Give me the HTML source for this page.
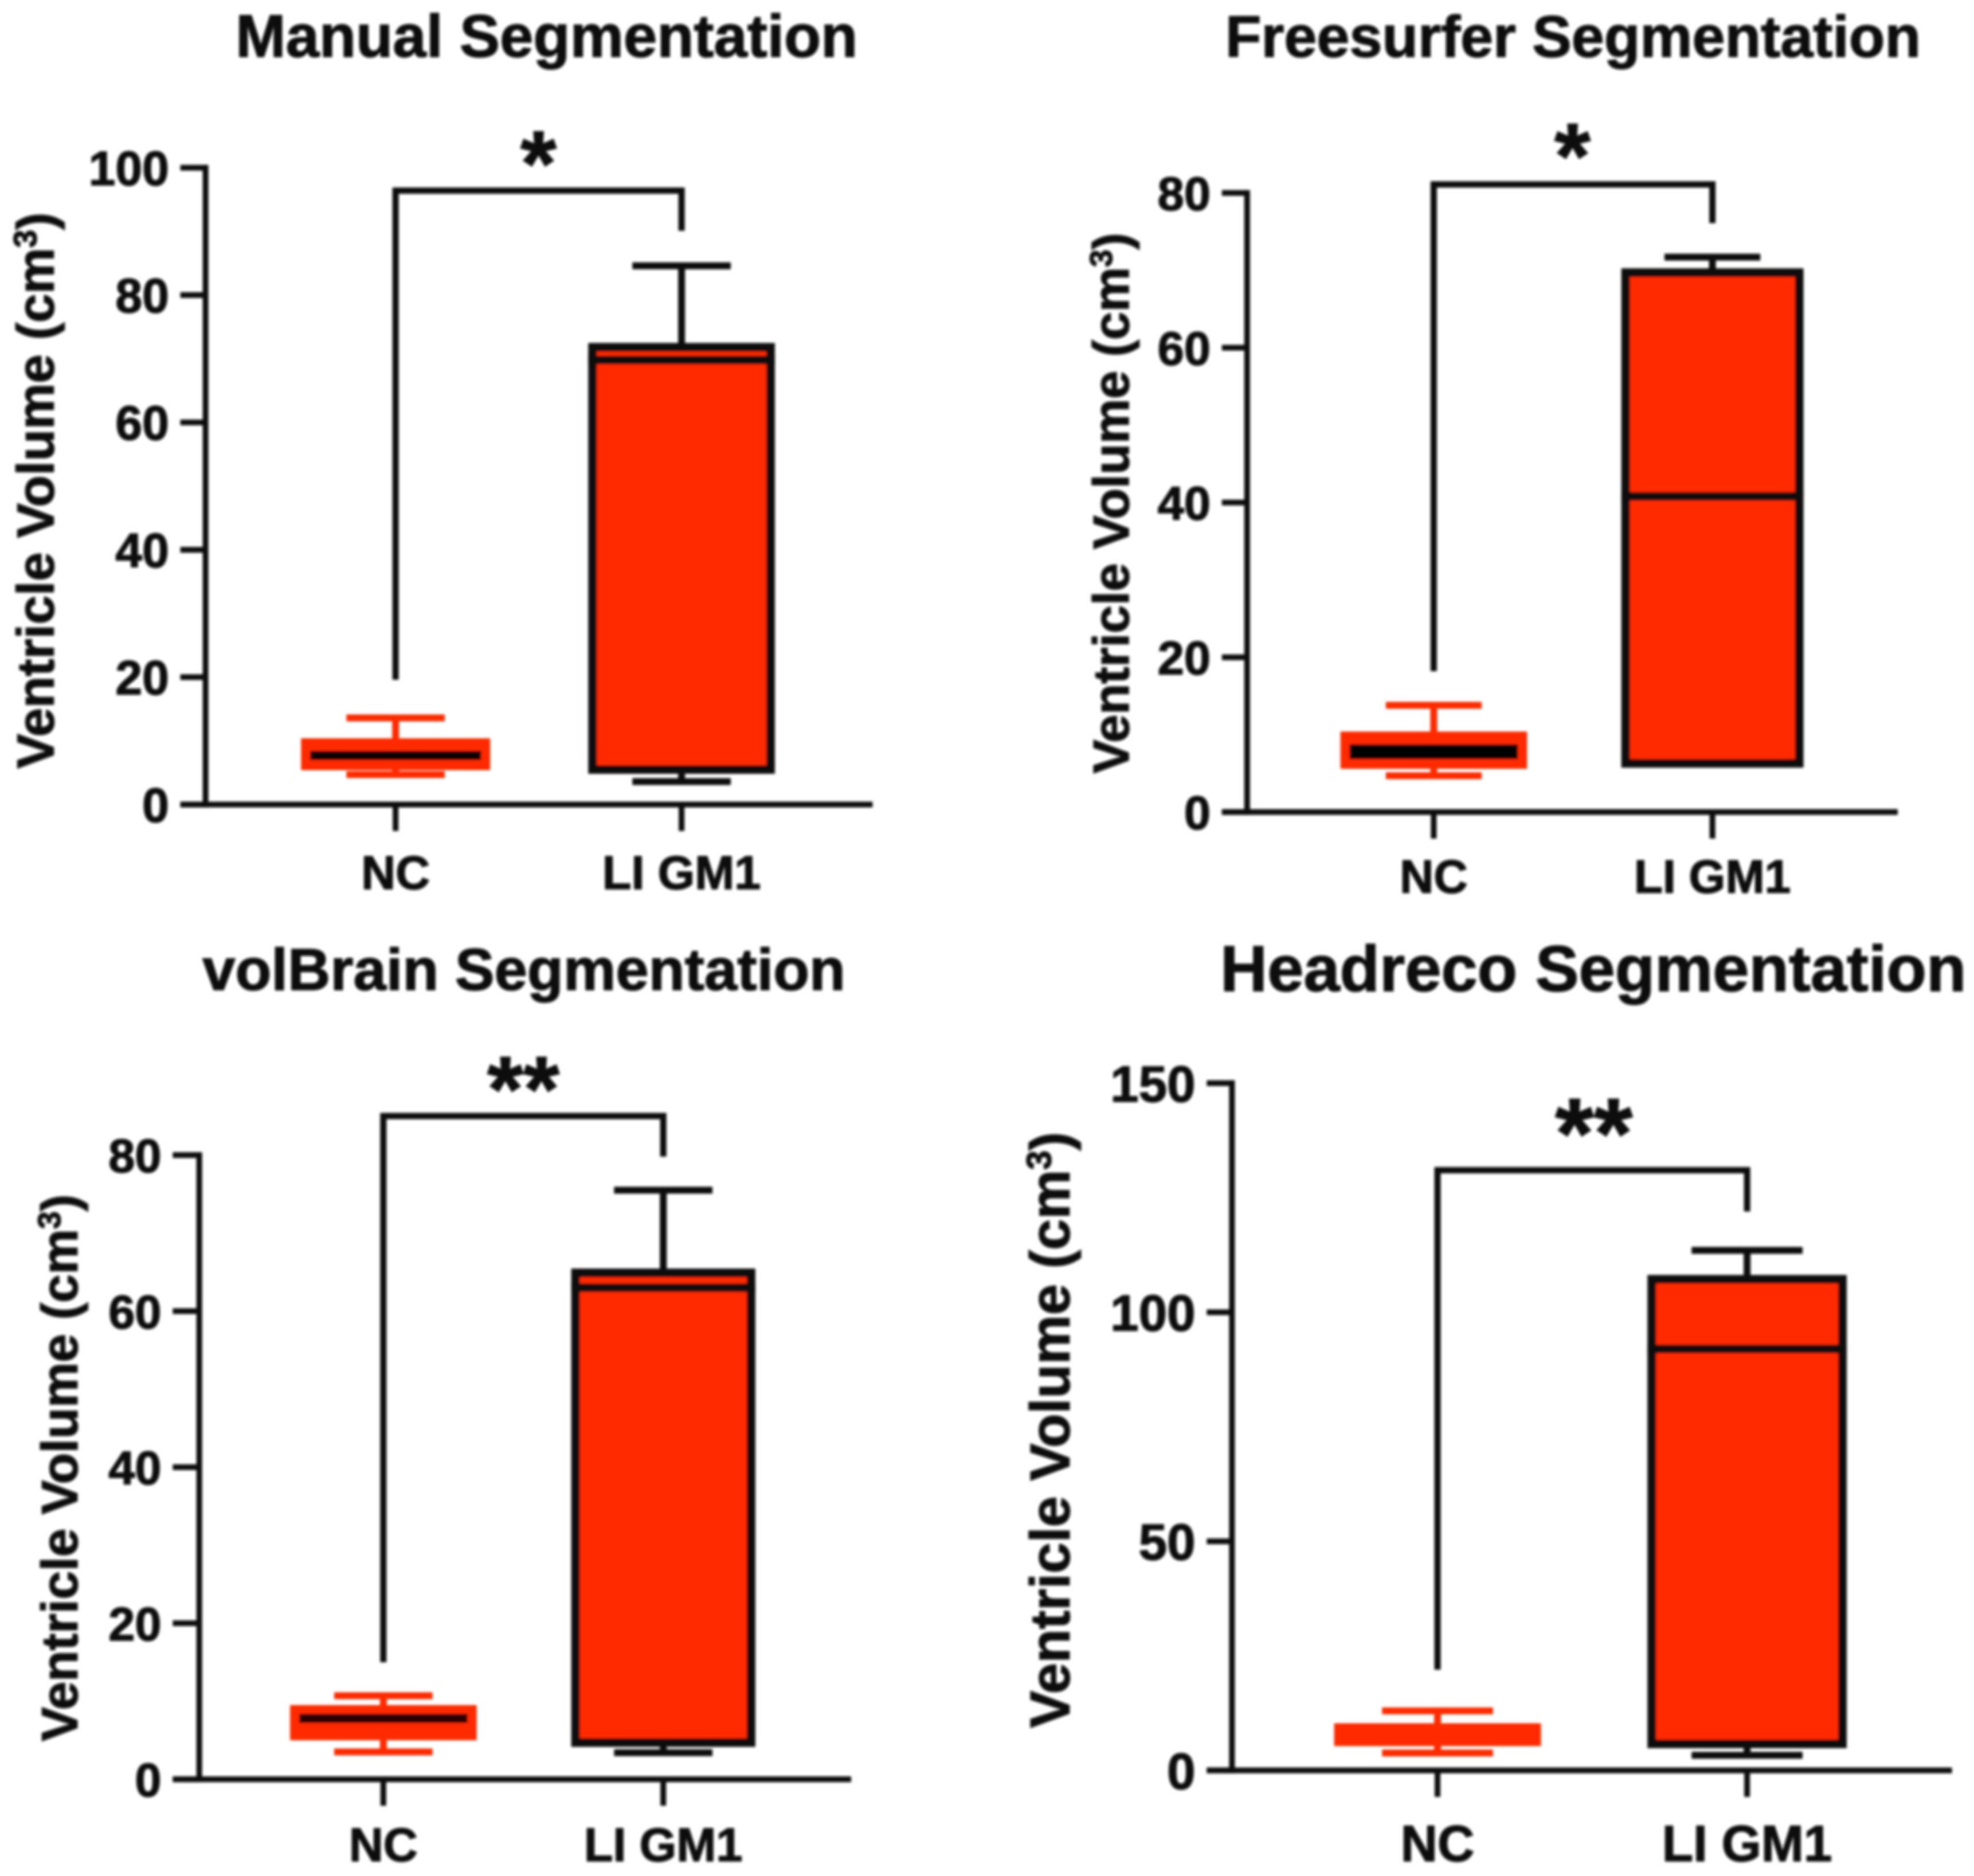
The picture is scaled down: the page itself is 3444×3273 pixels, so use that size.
<!DOCTYPE html>
<html lang="en">
<head>
<meta charset="utf-8">
<title>Ventricle Volume Segmentation Box Plots</title>
<style>
html,body{margin:0;padding:0;background:#fff;}
svg{display:block;}
text{font-family:"Liberation Sans",Arial,sans-serif;font-weight:700;fill:#0c0c0c;stroke:#0c0c0c;stroke-width:1.6px;}
</style>
</head>
<body>
<svg id="figure" xmlns="http://www.w3.org/2000/svg" width="3444" height="3273" viewBox="0 0 3444 3273">
<defs>
<filter id="soft" filterUnits="userSpaceOnUse" x="0" y="0" width="3444" height="3273">
<feGaussianBlur stdDeviation="2.4"/>
</filter>
</defs>
<rect x="0" y="0" width="3444" height="3273" fill="#fff"/>
<g id="root" filter="url(#soft)"></g>
</svg>
<script>
// ---- data ----
const categories = ['NC', 'LI GM1'];
const yAxisLabel = 'Ventricle Volume (cm';
const yAxisUnitPower = '3';

const manualTitle = 'Manual Segmentation';
const manualTicks = [0, 20, 40, 60, 80, 100];
// five-number summaries: min, q1, median, q3, max
const manualNC = [4.7, 5.9, 7.7, 9.9, 13.6];
const manualLI = [3.6, 5.5, 69.8, 71.8, 84.6];
// bracket values: left end, top, right end
const manualBracket = [19.6, 96.4, 90.1];
const manualStars = '*';

const freesurferTitle = 'Freesurfer Segmentation';
const freesurferTicks = [0, 20, 40, 60, 80];
const freesurferNC = [4.7, 6, 7.8, 10, 13.8];
const freesurferLI = [6.3, 6.3, 40.8, 69.7, 71.7];
const freesurferBracket = [18.2, 81.1, 76.1];
const freesurferStars = '*';

const volbrainTitle = 'volBrain Segmentation';
const volbrainTicks = [0, 20, 40, 60, 80];
const volbrainNC = [3.5, 5.4, 7.8, 9.1, 10.7];
const volbrainLI = [3.4, 4.7, 63, 64.9, 75.5];
const volbrainBracket = [15, 85, 79.8];
const volbrainStars = '**';

const headrecoTitle = 'Headreco Segmentation';
const headrecoTicks = [0, 50, 100, 150];
const headrecoNC = [3.8, 6, 8, 9.6, 13];
const headrecoLI = [3.3, 5.8, 92, 107.2, 113.5];
const headrecoBracket = [22, 131, 122];
const headrecoStars = '**';

// ---- layout (reference pixels at 3444 wide) ----
const S = 2.2;
const panels = [
  {key:'manual', title:manualTitle, ticks:manualTicks, nc:manualNC, li:manualLI, bracket:manualBracket, stars:manualStars,
   yMax:100, axisX:163, yTop:133, yBottom:638, xStart:143, xEnd:692, catX0:313.7, catX1:540.5, boxW0:150, boxW1:148, capW:78,
   titleX:433.5, titleY:45, titleSize:105, ylabX:28, ylabY:389, ylabSize:90.5, tickSize:84, catSize:83, catY:705,
   starY:155, starSize:162, ncMedianW:16, ncMedianColor:'#0a0000', starCenter:427},
  {key:'freesurfer', title:freesurferTitle, ticks:freesurferTicks, nc:freesurferNC, li:freesurferLI, bracket:freesurferBracket, stars:freesurferStars,
   yMax:80, axisX:989, yTop:153, yBottom:644, xStart:969, xEnd:1505, catX0:1137, catX1:1358, boxW0:148, boxW1:144.5, capW:76,
   titleX:1247.5, titleY:45, titleSize:102.5, ylabX:881, ylabY:399, ylabSize:88, tickSize:83, catSize:82, catY:708,
   starY:149, starSize:162, ncMedianW:26, ncMedianColor:'#000', starCenter:1247},
  {key:'volbrain', title:volbrainTitle, ticks:volbrainTicks, nc:volbrainNC, li:volbrainLI, bracket:volbrainBracket, stars:volbrainStars,
   yMax:80, axisX:158, yTop:916, yBottom:1411, xStart:137, xEnd:675, catX0:304, catX1:526, boxW0:148, boxW1:146, capW:78,
   titleX:415.5, titleY:785, titleSize:103, ylabX:47, ylabY:1164, ylabSize:89, tickSize:83, catSize:83, catY:1476,
   starY:889, starSize:162, ncMedianW:16, ncMedianColor:'#2a0500', starCenter:415},
  {key:'headreco', title:headrecoTitle, ticks:headrecoTicks, nc:headrecoNC, li:headrecoLI, bracket:headrecoBracket, stars:headrecoStars,
   yMax:150, axisX:977, yTop:859, yBottom:1404, xStart:957, xEnd:1548, catX0:1140, catX1:1385.5, boxW0:164, boxW1:158, capW:88,
   titleX:1263.5, titleY:786, titleSize:113.7, ylabX:832.5, ylabY:1134, ylabSize:97, tickSize:89, catSize:89, catY:1476,
   starY:926, starSize:174, ncMedianW:13, ncMedianColor:'#ff2a00', starCenter:1264}
];

const NS = 'http://www.w3.org/2000/svg';
const root = document.getElementById('root');
const RED = '#ff2a00';
const INK = '#0a0a0a';

function make(tag, parent, props) {
  const el = document.createElementNS(NS, tag);
  Object.keys(props).forEach(function (k) { el.setAttribute(k, props[k]); });
  parent.appendChild(el);
  return el;
}
function line(parent, x1, y1, x2, y2, color, w) {
  return make('line', parent, {x1:x1, y1:y1, x2:x2, y2:y2, stroke:color, 'stroke-width':w});
}

panels.forEach(function (p) {
  const yScale = function (v) { return (p.yBottom + (p.yTop - p.yBottom) * (v / p.yMax)) * S; };
  const xScale = function (i) { return (p.catX0 + (p.catX1 - p.catX0) * i) * S; };

  const g = make('g', root, {});
  
  

  const title = make('text', g, {x:p.titleX * S, y:p.titleY * S, 'font-size':p.titleSize, 'text-anchor':'middle'});
  
  
  title.textContent = p.title;

  // y axis title
  const ylab = make('text', g, {x:0, y:0, 'font-size':p.ylabSize, 'text-anchor':'middle',
    transform:'translate(' + (p.ylabX + p.ylabSize * 0.16) * S + ' ' + p.ylabY * S + ') rotate(-90)'});
  
  
  ylab.appendChild(document.createTextNode(yAxisLabel));
  const sup = make('tspan', ylab, {dy:-p.ylabSize * 0.33, 'font-size':p.ylabSize * 0.62});
  sup.textContent = yAxisUnitPower;
  const closeParen = make('tspan', ylab, {dy:p.ylabSize * 0.33});
  closeParen.textContent = ')';

  // axes
  const yAxis = line(g, p.axisX * S, yScale(p.yMax) - 5, p.axisX * S, yScale(0) + 5, INK, 10);
  
  
  const xAxis = line(g, p.xStart * S, yScale(0), p.xEnd * S, yScale(0), INK, 10);
  
  

  p.ticks.forEach(function (t) {
    const tick = line(g, p.xStart * S, yScale(t), p.axisX * S, yScale(t), INK, 10);
    
    
    const lab = make('text', g, {x:(p.xStart - 9) * S, y:yScale(t), dy:'0.36em', 'font-size':p.tickSize, 'text-anchor':'end'});
    
    
    lab.textContent = String(t);
  });

  categories.forEach(function (c, i) {
    const tick = line(g, xScale(i), yScale(0), xScale(i), (p.yBottom + 21) * S, INK, 10);
    
    
    const lab = make('text', g, {x:xScale(i), y:p.catY * S, 'font-size':p.catSize, 'text-anchor':'middle'});
    
    
    lab.textContent = c;
  });

  // boxes
  [p.nc, p.li].forEach(function (stats, i) {
    const isNC = i === 0;
    const stroke = isNC ? RED : INK;
    const sw = isNC ? 11 : 15;
    const whW = 12;
    const cx = xScale(i);
    const boxW = (isNC ? p.boxW0 : p.boxW1) * S;
    const capHalf = p.capW * S / 2;

    const box = make('g', g, {});
    
    

    const whisker = line(box, cx, yScale(stats[4]), cx, yScale(stats[0]), stroke, whW);
    
    
    const capTop = line(box, cx - capHalf, yScale(stats[4]), cx + capHalf, yScale(stats[4]), stroke, whW);
    
    
    if (stats[0] < stats[1]) {
      const capBottom = line(box, cx - capHalf, yScale(stats[0]), cx + capHalf, yScale(stats[0]), stroke, whW);
      
      
    }

    const rect = make('rect', box, {x:cx - boxW / 2 + sw / 2, y:yScale(stats[3]), width:boxW - sw,
      height:yScale(stats[1]) - yScale(stats[3]), fill:RED, stroke:stroke, 'stroke-width':sw});
    
    

    const medColor = isNC ? p.ncMedianColor : INK;
    const medW = isNC ? p.ncMedianW : 15;
    const inset = isNC ? 16 : 0;
    const med = line(box, cx - boxW / 2 + inset, yScale(stats[2]), cx + boxW / 2 - inset, yScale(stats[2]), medColor, medW);
    
    
  });

  // significance bracket
  const bx0 = xScale(0);
  const bx1 = xScale(1);
  const bracket = make('path', g, {d:'M' + bx0 + ' ' + yScale(p.bracket[0]) + ' L' + bx0 + ' ' + yScale(p.bracket[1]) +
    ' L' + bx1 + ' ' + yScale(p.bracket[1]) + ' L' + bx1 + ' ' + yScale(p.bracket[2]),
    fill:'none', stroke:INK, 'stroke-width':11});
  
  

  const stars = make('text', g, {x:p.starCenter * S, y:p.starY * S, 'font-size':p.starSize, 'text-anchor':'middle'});
  
  
  stars.textContent = p.stars;
});
</script>
</body>
</html>
